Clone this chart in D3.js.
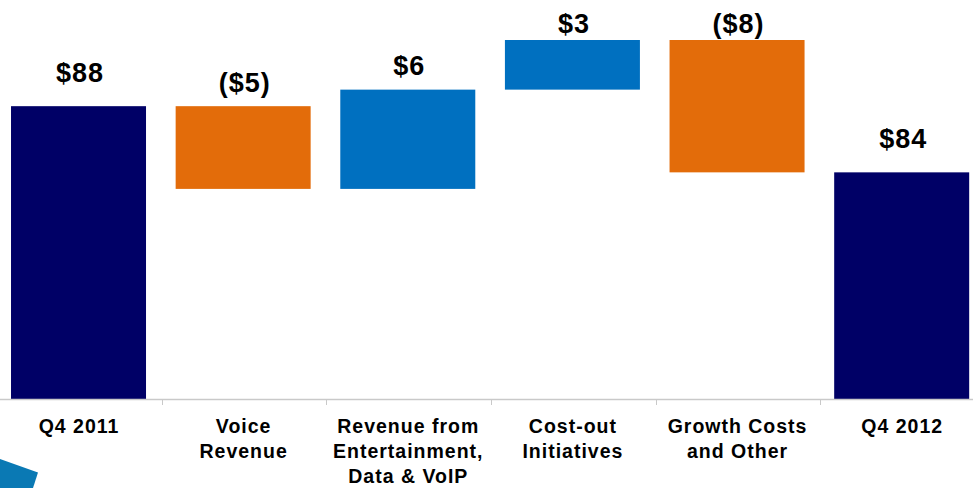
<!DOCTYPE html>
<html>
<head>
<meta charset="utf-8">
<script src="https://cdn.jsdelivr.net/npm/d3@7/dist/d3.min.js"></script>
<style>
  html, body { margin: 0; padding: 0; background: #ffffff; }
  svg { display: block; }
  text { font-family: Arial, "Liberation Sans", Helvetica, sans-serif; font-weight: bold; fill: #000; }
</style>
</head>
<body>
<svg id="chart" width="973" height="488"></svg>
<script>
// Operating income bridge, Q4 2011 to Q4 2012 ($ millions)
const categories = [
  ["Q4 2011"],
  ["Voice", "Revenue"],
  ["Revenue from", "Entertainment,", "Data & VoIP"],
  ["Cost-out", "Initiatives"],
  ["Growth Costs", "and Other"],
  ["Q4 2012"]
];
const values = [88, -5, 6, 3, -8, 84];
const kinds = ["total", "delta", "delta", "delta", "delta", "total"];
const valueLabels = ["$88", "($5)", "$6", "$3", "($8)", "$84"];

const colors = { total: "#000066", up: "#0070C0", down: "#E36C0A" };

const W = 973, H = 488;
const baseY = 399;
const svg = d3.select("#chart");

// Build waterfall segments from running total
let running = 0;
const bars = values.map((v, i) => {
  let lo, hi, color;
  if (kinds[i] === "total") {
    running = v; lo = null; hi = v; color = colors.total;
  } else {
    const start = running; running += v;
    lo = Math.min(start, running); hi = Math.max(start, running);
    color = v >= 0 ? colors.up : colors.down;
  }
  return { i, key: categories[i].join(" "), lo, hi, color, kind: kinds[i], label: valueLabels[i] };
});

const x = d3.scaleBand()
  .domain(bars.map(d => d.key))
  .range([-3.8, 984])
  .paddingInner(0.18)
  .paddingOuter(0.09);

const y = d3.scaleLinear().domain([70.3, 92]).range([baseY, 40]);

// Bars
svg.append("g").selectAll("rect").data(bars).join("rect")
  .attr("x", d => x(d.key))
  .attr("width", x.bandwidth())
  .attr("y", d => y(d.hi))
  .attr("height", d => (d.lo === null ? y.range()[0] : y(d.lo)) - y(d.hi))
  .attr("fill", d => d.color);

// Category axis line and separators
svg.append("line")
  .attr("x1", 0).attr("x2", W)
  .attr("y1", baseY + 0.5).attr("y2", baseY + 0.5)
  .attr("stroke", "#c9c9c9").attr("stroke-width", 1.5);

const step = x.step();
svg.append("g").selectAll("line").data(bars.slice(0, -1)).join("line")
  .attr("x1", d => Math.round(x(d.key) + x.bandwidth() + (step - x.bandwidth()) / 2) + 1.5)
  .attr("x2", d => Math.round(x(d.key) + x.bandwidth() + (step - x.bandwidth()) / 2) + 1.5)
  .attr("y1", baseY)
  .attr("y2", baseY + 6)
  .attr("stroke", "#c9c9c9").attr("stroke-width", 1);

// Category labels
const catG = svg.append("g");
bars.forEach(d => {
  const cx = x(d.key) + x.bandwidth() / 2 + 0.5;
  const t = catG.append("text")
    .attr("x", cx)
    .attr("y", 433)
    .attr("text-anchor", "middle")
    .style("font-size", "19.5px")
    .style("letter-spacing", "1px");
  categories[d.i].forEach((line, k) => {
    t.append("tspan")
      .attr("x", cx)
      .attr("dy", k === 0 ? 0 : 25)
      .text(line);
  });
});

// Value labels above each bar
svg.append("g").selectAll("text").data(bars).join("text")
  .attr("x", d => x(d.key) + x.bandwidth() / 2 + 1.5)
  .attr("y", d => Math.max(y(d.hi) - (d.kind === "total" ? 24.5 : 14.5), 32.5))
  .attr("text-anchor", "middle")
  .style("font-size", "27px")
  .style("letter-spacing", "1px")
  .text(d => d.label);

// Corner accent shape
svg.append("path")
  .attr("d", "M0,459 L38,472.5 L33,488 L0,488 Z")
  .attr("fill", "#0a79b4");
</script>
</body>
</html>
